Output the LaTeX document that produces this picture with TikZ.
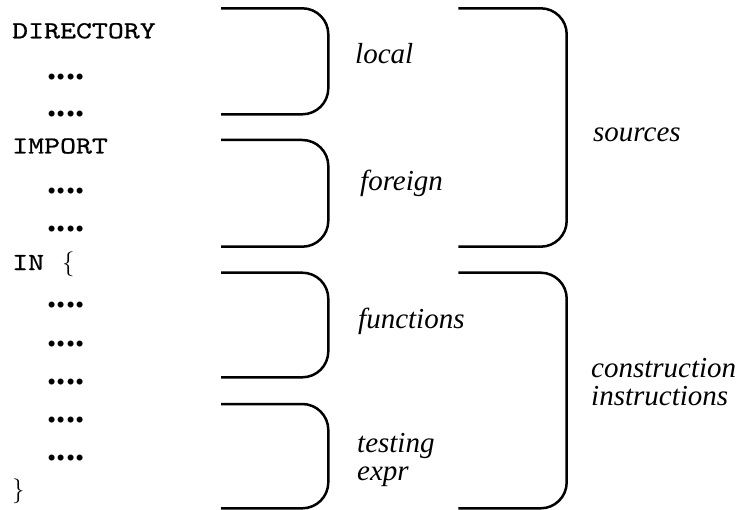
\documentclass[tikz,border=0pt]{standalone}
\usepackage{fontspec}
\setmainfont{Liberation Serif}
\newfontfamily\codefont[FakeBold=0.6,FakeStretch=1.24]{lmmono10-regular.otf}
\tikzset{
  code/.style={anchor=base west, inner sep=0pt, font=\fontsize{24.5}{24.5}\selectfont\codefont},
  dots/.style={anchor=base west, inner sep=0pt, font=\fontsize{36.8}{36.8}\selectfont\bfseries},
  lbl/.style={anchor=base west, inner sep=0pt, font=\fontsize{29}{29}\selectfont\itshape},
  brk/.style={line width=2.5pt, rounded corners=26pt}
}
\begin{document}
\begin{tikzpicture}[x=1pt,y=-1pt]
\useasboundingbox (0,0) rectangle (743,510);
% code column
\node[code] (dir) at (12,38.3) {DIRECTORY};
\node[dots] (d1) at (47.5,80) {....};
\node[dots] (d2) at (47.5,117) {....};
\node[code] (imp) at (12,153.5) {IMPORT};
\node[dots] (d3) at (47.5,194) {....};
\node[dots] (d4) at (47.5,232) {....};
\node[code] (in) at (12,270) {IN\hspace{18pt}$\{$};
\node[dots] (d5) at (47.5,307) {....};
\node[dots] (d6) at (47.5,346) {....};
\node[dots] (d7) at (47.5,384) {....};
\node[dots] (d8) at (47.5,422) {....};
\node[dots] (d9) at (47.5,460) {....};
\node[code] (close) at (12,497) {$\}$};
% small brackets
\draw[brk] (221,8.3) -- (328.3,8.3) -- (328.3,114.3) -- (221,114.3);
\draw[brk] (221,140) -- (328.3,140) -- (328.3,246.7) -- (221,246.7);
\draw[brk] (221,272.7) -- (328.3,272.7) -- (328.3,377.3) -- (221,377.3);
\draw[brk] (221,404) -- (328.3,404) -- (328.3,508.3) -- (221,508.3);
% big brackets
\draw[brk] (458.3,8.3) -- (566.7,8.3) -- (566.7,246.7) -- (458.3,246.7);
\draw[brk] (458.3,272.7) -- (566.7,272.7) -- (566.7,508.3) -- (458.3,508.3);
% labels
\node[lbl] (local) at (355,64) {local};
\node[lbl] (foreign) at (360,191) {foreign};
\node[lbl] (functions) at (358,328) {functions};
\node[lbl] (testing) at (357,452) {testing};
\node[lbl] (expr) at (357,480) {expr};
\node[lbl] (sources) at (593,142) {sources};
\node[lbl] (constr) at (591,377) {construction};
\node[lbl] (instr) at (591,405) {instructions};
\end{tikzpicture}
\end{document}
